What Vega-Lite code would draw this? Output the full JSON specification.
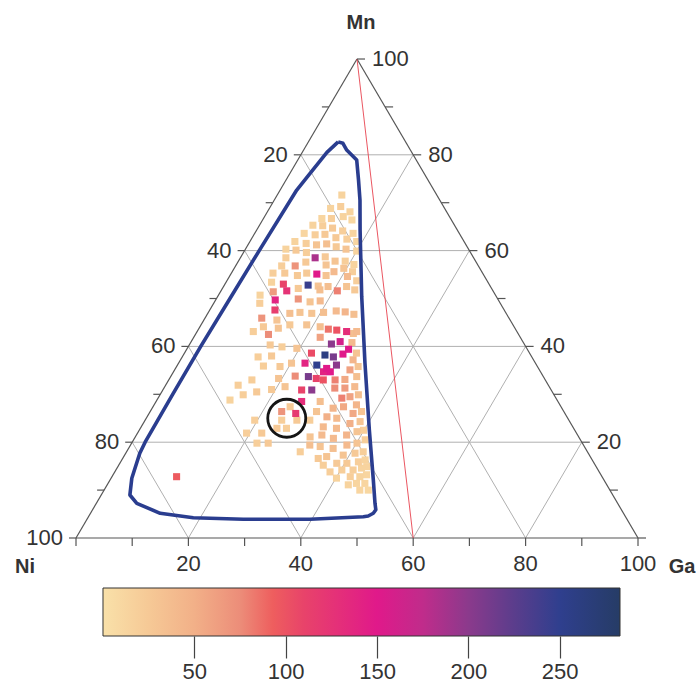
{
"$schema": "https://vega.github.io/schema/vega-lite/v6.json",
"padding": 0,
"spacing": 0,
"config": {"view": {"stroke": null}},
"datasets": {
"grid": [
{"Ga":0,"Mn":20,"Ga2":80,"Mn2":20},{"Ga":0,"Mn":40,"Ga2":60,"Mn2":40},{"Ga":0,"Mn":60,"Ga2":40,"Mn2":60},{"Ga":0,"Mn":80,"Ga2":20,"Mn2":80},
{"Ga":20,"Mn":0,"Ga2":20,"Mn2":80},{"Ga":40,"Mn":0,"Ga2":40,"Mn2":60},{"Ga":60,"Mn":0,"Ga2":60,"Mn2":40},{"Ga":80,"Mn":0,"Ga2":80,"Mn2":20},
{"Ga":80,"Mn":0,"Ga2":0,"Mn2":80},{"Ga":60,"Mn":0,"Ga2":0,"Mn2":60},{"Ga":40,"Mn":0,"Ga2":0,"Mn2":40},{"Ga":20,"Mn":0,"Ga2":0,"Mn2":20}],
"edges": [{"Ga":0,"Mn":0,"Ga2":100,"Mn2":0},{"Ga":0,"Mn":0,"Ga2":0,"Mn2":100},{"Ga":100,"Mn":0,"Ga2":0,"Mn2":100}],
"red": [{"Ga":0,"Mn":100,"Ga2":60,"Mn2":0}],
"tickB": [{"Ga":0,"Mn":0},{"Ga":10,"Mn":0},{"Ga":20,"Mn":0},{"Ga":30,"Mn":0},{"Ga":40,"Mn":0},{"Ga":50,"Mn":0},{"Ga":60,"Mn":0},{"Ga":70,"Mn":0},{"Ga":80,"Mn":0},{"Ga":90,"Mn":0},{"Ga":100,"Mn":0}],
"tickL": [{"Ga":0,"Mn":0},{"Ga":0,"Mn":10},{"Ga":0,"Mn":20},{"Ga":0,"Mn":30},{"Ga":0,"Mn":40},{"Ga":0,"Mn":50},{"Ga":0,"Mn":60},{"Ga":0,"Mn":70},{"Ga":0,"Mn":80},{"Ga":0,"Mn":90}],
"tickR": [{"Ga":100,"Mn":0},{"Ga":90,"Mn":10},{"Ga":80,"Mn":20},{"Ga":70,"Mn":30},{"Ga":60,"Mn":40},{"Ga":50,"Mn":50},{"Ga":40,"Mn":60},{"Ga":30,"Mn":70},{"Ga":20,"Mn":80},{"Ga":10,"Mn":90},{"Ga":0,"Mn":100}],
"labB": [{"Ga":20,"Mn":0,"label":"20"},{"Ga":40,"Mn":0,"label":"40"},{"Ga":60,"Mn":0,"label":"60"},{"Ga":80,"Mn":0,"label":"80"},{"Ga":100,"Mn":0,"label":"100"}],
"labL": [{"Ga":0,"Mn":80,"label":"20"},{"Ga":0,"Mn":60,"label":"40"},{"Ga":0,"Mn":40,"label":"60"},{"Ga":0,"Mn":20,"label":"80"},{"Ga":0,"Mn":0,"label":"100"}],
"labR": [{"Ga":80,"Mn":20,"label":"20"},{"Ga":60,"Mn":40,"label":"40"},{"Ga":40,"Mn":60,"label":"60"},{"Ga":20,"Mn":80,"label":"80"},{"Ga":0,"Mn":100,"label":"100"}],
"curve": [
{"i":1,"Ga":5.3,"Mn":82.7},{"i":2,"Ga":6.3,"Mn":82.4},{"i":3,"Ga":7.67,"Mn":81.0},{"i":4,"Ga":10.5,"Mn":78.9},{"i":5,"Ga":12.9,"Mn":74.74},
{"i":6,"Ga":15.25,"Mn":70.56},{"i":7,"Ga":18.4,"Mn":64.3},{"i":8,"Ga":25.65,"Mn":50.38},{"i":9,"Ga":33.15,"Mn":36.53},{"i":10,"Ga":40.92,"Mn":22.55},
{"i":11,"Ga":46.85,"Mn":12.11},{"i":12,"Ga":49.58,"Mn":7.24},{"i":13,"Ga":50.4,"Mn":5.9},{"i":14,"Ga":50.32,"Mn":5.16},{"i":15,"Ga":49.7,"Mn":4.6},
{"i":16,"Ga":48.9,"Mn":4.45},{"i":17,"Ga":39.69,"Mn":3.9},{"i":18,"Ga":27.82,"Mn":3.9},{"i":19,"Ga":18.75,"Mn":4.24},{"i":20,"Ga":12.4,"Mn":5.16},
{"i":21,"Ga":7.2,"Mn":7.24},{"i":22,"Ga":5.1,"Mn":8.98},{"i":23,"Ga":3.7,"Mn":12.46},{"i":24,"Ga":2.5,"Mn":17.7},{"i":25,"Ga":2.3,"Mn":20},
{"i":26,"Ga":2.2,"Mn":30},{"i":27,"Ga":2.2,"Mn":40},{"i":28,"Ga":2.4,"Mn":50},{"i":29,"Ga":2.6,"Mn":60},{"i":30,"Ga":2.95,"Mn":72.65},
{"i":31,"Ga":3.6,"Mn":76.1},{"i":32,"Ga":4.4,"Mn":80.5},{"i":33,"Ga":5.3,"Mn":82.7}],
"pts": [
{"Ga":11.5,"Mn":71.6,"v":15},{"Ga":10.9,"Mn":68.8,"v":15},{"Ga":12.5,"Mn":69.2,"v":20},{"Ga":14.7,"Mn":68.1,"v":15},{"Ga":10.4,"Mn":66.7,"v":12},
{"Ga":12.1,"Mn":66.7,"v":20},{"Ga":14.0,"Mn":67.1,"v":15},{"Ga":15.9,"Mn":66.4,"v":10},{"Ga":9.5,"Mn":65.3,"v":15},{"Ga":11.3,"Mn":65.2,"v":20},
{"Ga":13.3,"Mn":64.7,"v":25},{"Ga":15.4,"Mn":64.1,"v":20},{"Ga":17.5,"Mn":63.6,"v":12},{"Ga":8.8,"Mn":63.6,"v":12},{"Ga":10.9,"Mn":63.3,"v":20},
{"Ga":12.6,"Mn":63.4,"v":25},{"Ga":14.9,"Mn":62.7,"v":25},{"Ga":17.0,"Mn":62.4,"v":20},{"Ga":19.0,"Mn":61.9,"v":12},{"Ga":8.0,"Mn":61.9,"v":15},
{"Ga":10.2,"Mn":61.5,"v":20},{"Ga":12.2,"Mn":61.2,"v":30},{"Ga":13.9,"Mn":61.4,"v":35},{"Ga":15.9,"Mn":60.8,"v":25},{"Ga":17.9,"Mn":60.3,"v":30},
{"Ga":20.0,"Mn":59.9,"v":15},{"Ga":7.2,"Mn":60.3,"v":15},{"Ga":9.1,"Mn":60.1,"v":25},{"Ga":11.2,"Mn":59.6,"v":20},{"Ga":15.0,"Mn":58.7,"v":25},
{"Ga":17.2,"Mn":57.8,"v":30},{"Ga":19.0,"Mn":57.8,"v":20},{"Ga":20.9,"Mn":57.1,"v":15},{"Ga":8.1,"Mn":58.5,"v":20},{"Ga":12.1,"Mn":57.6,"v":25},
{"Ga":16.0,"Mn":57.0,"v":30},{"Ga":18.1,"Mn":55.6,"v":40},{"Ga":19.5,"Mn":56.3,"v":30},{"Ga":21.4,"Mn":55.6,"v":20},{"Ga":8.2,"Mn":56.8,"v":20},
{"Ga":13.4,"Mn":55.3,"v":25},{"Ga":17.1,"Mn":54.8,"v":30},{"Ga":21.0,"Mn":54.6,"v":40},{"Ga":23.1,"Mn":53.7,"v":20},{"Ga":7.4,"Mn":55.3,"v":20},
{"Ga":9.5,"Mn":55.3,"v":25},{"Ga":12.0,"Mn":54.8,"v":25},{"Ga":16.8,"Mn":52.6,"v":30},{"Ga":18.6,"Mn":52.5,"v":35},{"Ga":21.9,"Mn":52.5,"v":30},
{"Ga":23.7,"Mn":51.8,"v":25},{"Ga":8.1,"Mn":53.4,"v":15},{"Ga":13.5,"Mn":52.1,"v":25},{"Ga":17.5,"Mn":51.8,"v":35},{"Ga":7.4,"Mn":50.7,"v":15},
{"Ga":17.0,"Mn":49.3,"v":30},{"Ga":18.7,"Mn":49.5,"v":40},{"Ga":24.3,"Mn":47.2,"v":45},{"Ga":26.1,"Mn":46.7,"v":35},{"Ga":8.2,"Mn":49.0,"v":20},
{"Ga":14.6,"Mn":46.9,"v":35},{"Ga":16.3,"Mn":47.1,"v":30},{"Ga":18.5,"Mn":46.9,"v":30},{"Ga":20.5,"Mn":47.1,"v":35},{"Ga":22.6,"Mn":47.4,"v":40},
{"Ga":11.3,"Mn":44.1,"v":25},{"Ga":14.1,"Mn":43.8,"v":30},{"Ga":15.8,"Mn":44.5,"v":25},{"Ga":18.8,"Mn":44.5,"v":30},{"Ga":21.4,"Mn":44.1,"v":35},
{"Ga":28.4,"Mn":43.1,"v":40},{"Ga":10.0,"Mn":43.1,"v":20},{"Ga":13.0,"Mn":42.5,"v":75},{"Ga":13.0,"Mn":45.5,"v":30},
{"Ga":13.3,"Mn":58.5,"v":185},{"Ga":15.3,"Mn":55.1,"v":150},{"Ga":14.9,"Mn":52.8,"v":245},{"Ga":10.4,"Mn":53.0,"v":110},{"Ga":11.7,"Mn":51.6,"v":125},
{"Ga":10.6,"Mn":49.7,"v":140},{"Ga":11.6,"Mn":47.6,"v":115},{"Ga":10.6,"Mn":56.8,"v":70},{"Ga":9.4,"Mn":51.4,"v":65},{"Ga":14.6,"Mn":49.9,"v":70},
{"Ga":20.7,"Mn":51.6,"v":80},{"Ga":23.1,"Mn":43.6,"v":85},{"Ga":24.7,"Mn":43.4,"v":100},{"Ga":26.6,"Mn":43.1,"v":130},{"Ga":10.1,"Mn":45.9,"v":70},
{"Ga":22.5,"Mn":41.9,"v":60},{"Ga":28.0,"Mn":42.7,"v":35},{"Ga":14.4,"Mn":40.3,"v":25},{"Ga":16.7,"Mn":39.9,"v":20},{"Ga":19.5,"Mn":39.6,"v":30},
{"Ga":28.7,"Mn":40.8,"v":40},{"Ga":13.5,"Mn":37.8,"v":20},{"Ga":15.8,"Mn":38.0,"v":25},{"Ga":20.1,"Mn":36.5,"v":30},{"Ga":22.6,"Mn":38.6,"v":105},
{"Ga":30.7,"Mn":37.2,"v":45},{"Ga":30.6,"Mn":38.6,"v":30},{"Ga":15.4,"Mn":35.9,"v":20},{"Ga":18.4,"Mn":35.8,"v":25},{"Ga":31.2,"Mn":35.1,"v":60},
{"Ga":32.3,"Mn":35.8,"v":30},{"Ga":14.8,"Mn":33.0,"v":20},{"Ga":19.4,"Mn":33.3,"v":30},{"Ga":22.1,"Mn":33.8,"v":75},{"Ga":29.6,"Mn":33.0,"v":80},
{"Ga":31.3,"Mn":33.1,"v":55},{"Ga":33.1,"Mn":33.7,"v":35},{"Ga":12.9,"Mn":31.9,"v":20},{"Ga":16.9,"Mn":30.5,"v":25},{"Ga":19.3,"Mn":31.0,"v":25},
{"Ga":21.4,"Mn":31.6,"v":30},{"Ga":30.4,"Mn":31.3,"v":75},{"Ga":32.2,"Mn":31.3,"v":65},{"Ga":33.8,"Mn":31.6,"v":40},{"Ga":14.8,"Mn":29.9,"v":20},
{"Ga":13.0,"Mn":28.8,"v":15},{"Ga":29.2,"Mn":28.5,"v":35},{"Ga":32.7,"Mn":29.2,"v":80},{"Ga":34.0,"Mn":29.5,"v":60},{"Ga":35.3,"Mn":29.9,"v":35},
{"Ga":24.4,"Mn":27.4,"v":25},{"Ga":29.6,"Mn":26.4,"v":30},{"Ga":32.2,"Mn":27.1,"v":45},{"Ga":33.9,"Mn":27.4,"v":55},{"Ga":36.0,"Mn":27.8,"v":45},
{"Ga":19.5,"Mn":24.6,"v":20},{"Ga":24.3,"Mn":24.6,"v":20},{"Ga":27.0,"Mn":24.6,"v":25},{"Ga":29.3,"Mn":24.6,"v":20},{"Ga":32.0,"Mn":25.3,"v":50},
{"Ga":33.9,"Mn":25.0,"v":40},{"Ga":36.3,"Mn":26.0,"v":55},{"Ga":37.6,"Mn":26.4,"v":30},{"Ga":19.4,"Mn":21.9,"v":20},{"Ga":22.1,"Mn":21.9,"v":25},
{"Ga":24.3,"Mn":22.9,"v":25},{"Ga":26.0,"Mn":22.9,"v":20},{"Ga":32.4,"Mn":23.2,"v":40},{"Ga":34.9,"Mn":22.9,"v":40},{"Ga":36.8,"Mn":23.9,"v":50},
{"Ga":38.4,"Mn":24.3,"v":30},{"Ga":22.3,"Mn":19.8,"v":20},{"Ga":24.3,"Mn":19.8,"v":25},{"Ga":31.1,"Mn":21.1,"v":30},{"Ga":33.0,"Mn":21.5,"v":40},
{"Ga":35.4,"Mn":20.8,"v":40},{"Ga":37.4,"Mn":21.5,"v":45},{"Ga":38.9,"Mn":22.2,"v":30},{"Ga":39.9,"Mn":22.5,"v":20},{"Ga":30.9,"Mn":18.0,"v":20},
{"Ga":31.9,"Mn":19.4,"v":35},{"Ga":33.9,"Mn":19.1,"v":30},{"Ga":36.4,"Mn":18.7,"v":35},{"Ga":38.5,"Mn":19.4,"v":40},{"Ga":40.1,"Mn":19.8,"v":30},
{"Ga":41.2,"Mn":20.5,"v":20},{"Ga":34.8,"Mn":16.6,"v":25},{"Ga":36.1,"Mn":17.0,"v":30},{"Ga":38.9,"Mn":17.3,"v":30},{"Ga":40.8,"Mn":17.7,"v":25},
{"Ga":42.1,"Mn":18.0,"v":20},{"Ga":36.4,"Mn":15.2,"v":20},{"Ga":38.6,"Mn":15.6,"v":25},{"Ga":40.4,"Mn":15.6,"v":25},{"Ga":42.3,"Mn":15.9,"v":20},
{"Ga":43.3,"Mn":16.3,"v":15},{"Ga":38.3,"Mn":13.8,"v":20},{"Ga":40.2,"Mn":14.2,"v":20},{"Ga":42.2,"Mn":14.2,"v":20},{"Ga":43.5,"Mn":14.6,"v":15},
{"Ga":44.3,"Mn":14.9,"v":15},{"Ga":40.1,"Mn":12.5,"v":15},{"Ga":42.4,"Mn":12.8,"v":20},{"Ga":44.1,"Mn":12.8,"v":15},{"Ga":45.1,"Mn":13.2,"v":12},
{"Ga":42.9,"Mn":11.1,"v":15},{"Ga":44.2,"Mn":11.4,"v":12},{"Ga":45.7,"Mn":11.4,"v":12},{"Ga":45.5,"Mn":10.0,"v":12},{"Ga":47.0,"Mn":10.0,"v":10},
{"Ga":25.2,"Mn":40.5,"v":200},{"Ga":26.5,"Mn":41.0,"v":160},{"Ga":25.2,"Mn":38.2,"v":260},{"Ga":26.9,"Mn":37.8,"v":210},{"Ga":28.3,"Mn":38.4,"v":150},
{"Ga":28.8,"Mn":39.4,"v":150},{"Ga":22.5,"Mn":36.5,"v":140},{"Ga":24.8,"Mn":36.1,"v":250},{"Ga":26.9,"Mn":35.4,"v":150},{"Ga":28.3,"Mn":36.1,"v":200},
{"Ga":27.9,"Mn":34.7,"v":150},{"Ga":26.7,"Mn":34.7,"v":140},{"Ga":24.5,"Mn":33.7,"v":210},{"Ga":26.1,"Mn":33.3,"v":110},{"Ga":26.5,"Mn":30.9,"v":200},
{"Ga":24.7,"Mn":30.9,"v":110},{"Ga":27.5,"Mn":33.0,"v":100},{"Ga":25.9,"Mn":28.5,"v":130},{"Ga":26.1,"Mn":26.0,"v":120},{"Ga":23.4,"Mn":26.4,"v":70},
{"Ga":11.5,"Mn":12.8,"v":95}],
"circ": [{"Ga":25,"Mn":25}],
"bar": [{"lo":0,"hi":283}]
},
"vconcat": [
{
"width": 696,
"height": 587,
"encoding": {
"x": {"field": "X", "type": "quantitative", "scale": {"domain": [-13.523, 110.32], "nice": false, "zero": false}, "axis": null},
"y": {"field": "Mn", "type": "quantitative", "scale": {"domain": [-10.23, 112.32], "nice": false, "zero": false}, "axis": null}
},
"layer": [
{"data": {"name": "grid"}, "transform": [{"calculate": "datum.Ga + datum.Mn/2", "as": "X"}, {"calculate": "datum.Ga2 + datum.Mn2/2", "as": "X2"}],
 "mark": {"type": "rule", "color": "#b0b0b0", "strokeWidth": 1},
 "encoding": {"x2": {"field": "X2"}, "y2": {"field": "Mn2"}}},
{"data": {"name": "edges"}, "transform": [{"calculate": "datum.Ga + datum.Mn/2", "as": "X"}, {"calculate": "datum.Ga2 + datum.Mn2/2", "as": "X2"}],
 "mark": {"type": "rule", "color": "#555555", "strokeWidth": 1.2},
 "encoding": {"x2": {"field": "X2"}, "y2": {"field": "Mn2"}}},
{"data": {"name": "red"}, "transform": [{"calculate": "datum.Ga + datum.Mn/2", "as": "X"}, {"calculate": "datum.Ga2 + datum.Mn2/2", "as": "X2"}],
 "mark": {"type": "rule", "color": "#e8434f", "strokeWidth": 0.9},
 "encoding": {"x2": {"field": "X2"}, "y2": {"field": "Mn2"}}},
{"data": {"name": "tickB"}, "transform": [{"calculate": "datum.Ga + datum.Mn/2", "as": "X"}],
 "mark": {"type": "point", "shape": "M0,0L0,1", "size": 256, "filled": false, "stroke": "#555555", "strokeWidth": 1.2, "opacity": 1}},
{"data": {"name": "tickL"}, "transform": [{"calculate": "datum.Ga + datum.Mn/2", "as": "X"}],
 "mark": {"type": "point", "shape": "M0,0L-1,0", "size": 196, "filled": false, "stroke": "#555555", "strokeWidth": 1.2, "opacity": 1}},
{"data": {"name": "tickR"}, "transform": [{"calculate": "datum.Ga + datum.Mn/2", "as": "X"}],
 "mark": {"type": "point", "shape": "M0,0L1,0", "size": 256, "filled": false, "stroke": "#555555", "strokeWidth": 1.2, "opacity": 1}},
{"data": {"name": "labB"}, "transform": [{"calculate": "datum.Ga + datum.Mn/2", "as": "X"}],
 "mark": {"type": "text", "font": "Liberation Sans", "fontSize": 22, "color": "#333333", "align": "center", "baseline": "alphabetic", "dy": 33},
 "encoding": {"text": {"field": "label"}}},
{"data": {"name": "labL"}, "transform": [{"calculate": "datum.Ga + datum.Mn/2", "as": "X"}],
 "mark": {"type": "text", "font": "Liberation Sans", "fontSize": 22, "color": "#333333", "align": "right", "baseline": "middle", "dx": -13},
 "encoding": {"text": {"field": "label"}}},
{"data": {"name": "labR"}, "transform": [{"calculate": "datum.Ga + datum.Mn/2", "as": "X"}],
 "mark": {"type": "text", "font": "Liberation Sans", "fontSize": 22, "color": "#333333", "align": "left", "baseline": "middle", "dx": 15},
 "encoding": {"text": {"field": "label"}}},
{"data": {"name": "pts"}, "transform": [{"calculate": "datum.Ga + datum.Mn/2", "as": "X"}],
 "mark": {"type": "point", "shape": "square", "filled": true, "size": 50, "opacity": 1, "strokeWidth": 0},
 "encoding": {
  "color": {"field": "v", "type": "quantitative", "legend": null,
   "scale": {"domain": [0, 25, 50, 75, 93, 110, 150, 175, 200, 225, 250, 283],
             "range": ["#f9e1a9", "#f6c996", "#f2b088", "#ec8d79", "#ee5e5e", "#e8436a", "#e0198a", "#c02c8b", "#8b3a8c", "#5b3d8c", "#2f3f8e", "#263c66"],
             "interpolate": "rgb"}},
  "order": {"field": "v", "type": "quantitative"}}},
{"data": {"name": "curve"}, "transform": [{"calculate": "datum.Ga + datum.Mn/2", "as": "X"}],
 "mark": {"type": "line", "color": "#2a3d8f", "strokeWidth": 3.6, "strokeJoin": "round", "interpolate": "linear"},
 "encoding": {"order": {"field": "i", "type": "quantitative"}}},
{"data": {"name": "circ"}, "transform": [{"calculate": "datum.Ga + datum.Mn/2", "as": "X"}],
 "mark": {"type": "point", "shape": "circle", "size": 1444, "filled": false, "stroke": "#151515", "strokeWidth": 2.8, "opacity": 1}},
{"data": {"values": [{"Ga": 0, "Mn": 100, "label": "Mn"}]}, "transform": [{"calculate": "datum.Ga + datum.Mn/2", "as": "X"}],
 "mark": {"type": "text", "font": "Liberation Sans Narrow, Liberation Sans", "fontWeight": "bold", "fontSize": 20, "color": "#333333", "align": "center", "baseline": "middle", "dx": 4, "dy": -36},
 "encoding": {"text": {"field": "label"}}},
{"data": {"values": [{"Ga": 0, "Mn": 0, "label": "Ni"}]}, "transform": [{"calculate": "datum.Ga + datum.Mn/2", "as": "X"}],
 "mark": {"type": "text", "font": "Liberation Sans Narrow, Liberation Sans", "fontWeight": "bold", "fontSize": 20, "color": "#333333", "align": "center", "baseline": "middle", "dx": -51, "dy": 29},
 "encoding": {"text": {"field": "label"}}},
{"data": {"values": [{"Ga": 100, "Mn": 0, "label": "Ga"}]}, "transform": [{"calculate": "datum.Ga + datum.Mn/2", "as": "X"}],
 "mark": {"type": "text", "font": "Liberation Sans Narrow, Liberation Sans", "fontWeight": "bold", "fontSize": 20, "color": "#333333", "align": "center", "baseline": "middle", "dx": 44, "dy": 29},
 "encoding": {"text": {"field": "label"}}}
]
},
{
"width": 696,
"height": 48,
"data": {"name": "bar"},
"mark": {"type": "rect", "stroke": "#333333", "strokeWidth": 1,
 "fill": {"gradient": "linear", "x1": 0, "x2": 1, "y1": 0, "y2": 0, "stops": [
  {"offset": 0, "color": "#f9e1a9"}, {"offset": 0.0883, "color": "#f6c996"}, {"offset": 0.1767, "color": "#f2b088"},
  {"offset": 0.265, "color": "#ec8d79"}, {"offset": 0.3286, "color": "#ee5e5e"}, {"offset": 0.3887, "color": "#e8436a"},
  {"offset": 0.53, "color": "#e0198a"}, {"offset": 0.6184, "color": "#c02c8b"}, {"offset": 0.7067, "color": "#8b3a8c"},
  {"offset": 0.795, "color": "#5b3d8c"}, {"offset": 0.8834, "color": "#2f3f8e"}, {"offset": 1, "color": "#263c66"}]}},
"encoding": {
 "x": {"field": "lo", "type": "quantitative", "scale": {"domain": [-56.38, 324.6], "nice": false, "zero": false},
  "axis": {"values": [50, 100, 150, 200, 250], "tickSize": 22, "tickColor": "#444444", "tickWidth": 1.2, "domain": false, "grid": false, "title": null,
   "labelFont": "Liberation Sans", "labelFontSize": 22, "labelColor": "#333333", "labelPadding": 3}},
 "x2": {"field": "hi"},
 "y": {"datum": 0, "type": "quantitative", "scale": {"domain": [0, 1], "nice": false, "zero": false}, "axis": null},
 "y2": {"datum": 1}
}
}
]
}
